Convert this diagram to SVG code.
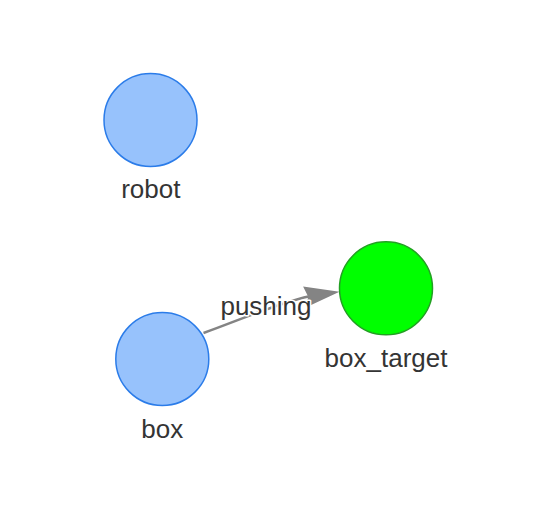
<svg xmlns="http://www.w3.org/2000/svg" width="550" height="516" viewBox="0 0 550 516">
<defs>
<style>
.blue{fill:#97C2FC;stroke:#2B7CE9;stroke-width:1.5}
.green{fill:#00FF00;stroke:#22A022;stroke-width:1.5}
text{font-family:"Liberation Sans",Arial,sans-serif;font-size:26px;fill:#343434;text-anchor:middle}
.lbl{stroke:#ffffff;stroke-width:3;paint-order:stroke;stroke-linejoin:round}
.edge{fill:none;stroke:#848484;stroke-width:2.5}
.head{fill:#848484}
</style>
</defs>
<rect width="550" height="516" fill="#ffffff"/>
<g id="edges">
<path class="edge" d="M203.5,333 C240,320 278,303 308.5,296.5"/>
<polygon class="head" points="339.5,291.7 303.1,286.5 308.1,296.4 306.3,307.3"/>
<text class="lbl" x="266" y="315">pushing</text>
</g>
<g id="robot">
<circle class="blue" cx="150.5" cy="120" r="46.5"/>
<text x="150.8" y="198">robot</text>
</g>
<g id="box">
<circle class="blue" cx="162.3" cy="359" r="46.5"/>
<text x="162.3" y="437.5">box</text>
</g>
<g id="box_target">
<circle class="green" cx="386" cy="288.3" r="46.5"/>
<text x="386" y="367">box_target</text>
</g>
</svg>
